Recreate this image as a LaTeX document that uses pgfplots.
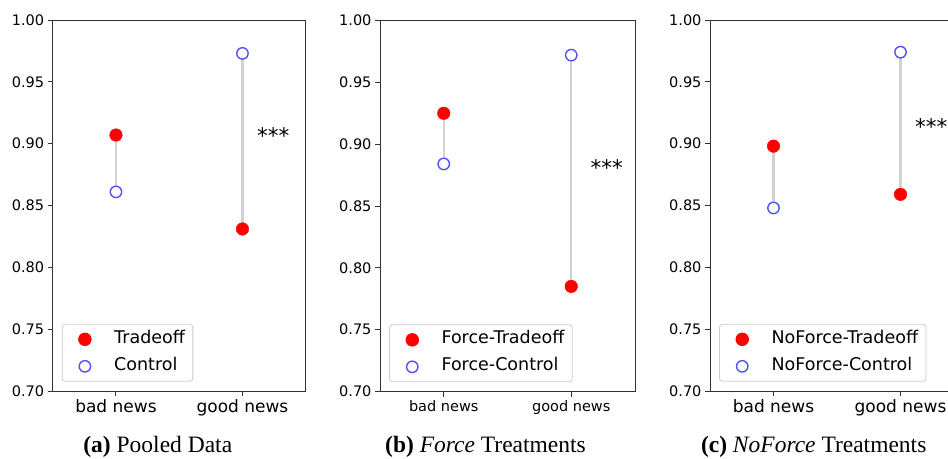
\documentclass[border=0pt]{standalone}
\usepackage{fontspec}
\setmainfont{DejaVu Sans}
\newfontfamily\capfont{Liberation Serif}
\usepackage{pgfplots}
\pgfplotsset{compat=1.18}
\definecolor{cblue}{RGB}{80,80,255}
\definecolor{gline}{RGB}{210,210,210}
\definecolor{spine}{RGB}{50,50,50}

\pgfplotstableread{
x tr ctl
0 0.907 0.861
1 0.831 0.973
}\dataA
\pgfplotstableread{
x tr ctl
0 0.925 0.884
1 0.785 0.972
}\dataB
\pgfplotstableread{
x tr ctl
0 0.898 0.848
1 0.859 0.974
}\dataC

\pgfplotsset{
  panel/.style={
    scale only axis, width=253pt, height=371pt, anchor=south west,
    xmin=-0.5, xmax=1.5, ymin=0.7, ymax=1.0,
    xtick={0,1}, xticklabels={bad news,good news},
    ytick={0.7,0.75,0.8,0.85,0.9,0.95,1},
    yticklabels={0.70,0.75,0.80,0.85,0.90,0.95,1.00},
    tick align=outside, tick pos=left,
    major tick length=5pt,
    axis line style={spine, line width=1pt},
    every tick/.style={spine, line width=1pt},
    y tick label style={font=\fontsize{14.5}{14.5}\selectfont},
    x tick label style={font=\fontsize{17}{17}\selectfont},
    clip=false,
    legend cell align=left,
    legend style={at={(0.036,0.025)}, anchor=south west, draw=black!20,
      line width=0.8pt, rounded corners=3pt, fill=white,
      font=\fontsize{17.5}{17.5}\selectfont, inner xsep=6pt, inner ysep=5pt,
      row sep=7pt, nodes={inner sep=2pt, text height=12pt, text depth=4pt}},
    legend image code/.code={\draw[##1] plot coordinates {(16.7pt,0pt)}; \path[draw=none,fill=none] (0pt,-1pt) rectangle (44pt,1pt);},
  },
  tdot/.style={only marks, mark=*, mark size=6.3pt, color=red, mark options={draw=red, fill=red}},
  cdot/.style={only marks, mark=*, mark size=5.7pt, color=cblue, mark options={draw=cblue, fill=white, line width=1.4pt}},
  gl/.style={gline, line width=2.2pt, forget plot},
}

\begin{document}
\begin{tikzpicture}
% ---------- (a) ----------
\begin{axis}[panel, at={(52.7pt,-391pt)}]
  \addplot[gl] coordinates {(0,0.907) (0,0.861)};
  \addplot[gl] coordinates {(1,0.831) (1,0.973)};
  \addplot[tdot] table[x=x,y=tr] {\dataA};
  \addlegendentry{Tradeoff}
  \addplot[cdot] table[x=x,y=ctl] {\dataA};
  \addlegendentry{Control}
  \node[anchor=base west, inner sep=0pt, font=\fontsize{21.5}{21.5}\selectfont] at (axis cs:1.115,0.900) {***};
\end{axis}
% ---------- (b) ----------
\begin{axis}[panel, at={(380pt,-391.5pt)}, width=255pt,
  x tick label style={font=\fontsize{14.5}{14.5}\selectfont}]
  \addplot[gl] coordinates {(0,0.925) (0,0.884)};
  \addplot[gl] coordinates {(1,0.785) (1,0.972)};
  \addplot[tdot] table[x=x,y=tr] {\dataB};
  \addlegendentry{Force-Tradeoff}
  \addplot[cdot] table[x=x,y=ctl] {\dataB};
  \addlegendentry{Force-Control}
  \node[anchor=base west, inner sep=0pt, font=\fontsize{21.5}{21.5}\selectfont] at (axis cs:1.151,0.875) {***};
\end{axis}
% ---------- (c) ----------
\begin{axis}[panel, at={(710pt,-391pt)}, width=254pt]
  \addplot[gl] coordinates {(0,0.898) (0,0.848)};
  \addplot[gl] coordinates {(1,0.859) (1,0.974)};
  \addplot[tdot] table[x=x,y=tr] {\dataC};
  \addlegendentry{NoForce-Tradeoff}
  \addplot[cdot] table[x=x,y=ctl] {\dataC};
  \addlegendentry{NoForce-Control}
  \node[anchor=base west, inner sep=0pt, font=\fontsize{21.5}{21.5}\selectfont] at (axis cs:1.113,0.9076) {***};
\end{axis}
% captions
\node[anchor=base, inner sep=0pt, font=\capfont\fontsize{23.5}{23.5}\selectfont] at (157.8pt,-452.5pt) {{\bfseries (a)} Pooled Data};
\node[anchor=base, inner sep=0pt, font=\capfont\fontsize{23.5}{23.5}\selectfont] at (485.5pt,-452.5pt) {{\bfseries (b)} \textit{Force} Treatments};
\node[anchor=base, inner sep=0pt, font=\capfont\fontsize{23.5}{23.5}\selectfont] at (813.7pt,-452.5pt) {{\bfseries (c)} \textit{NoForce} Treatments};
\pgfresetboundingbox
\useasboundingbox (0pt,0pt) rectangle (948pt,-458pt);
\end{tikzpicture}
\end{document}
